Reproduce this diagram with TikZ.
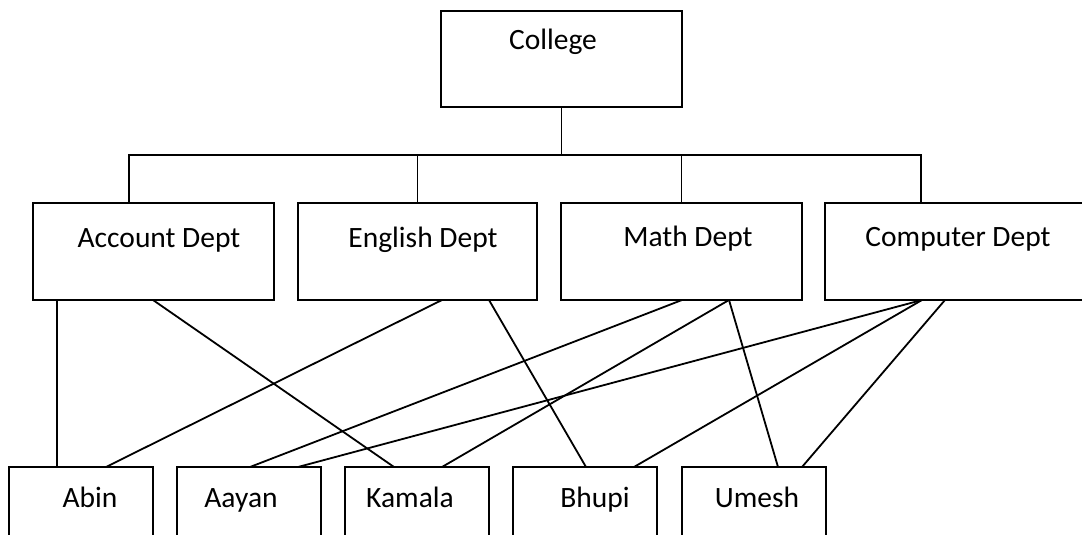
\documentclass[tikz,border=0pt]{standalone}
\usepackage{fontspec}
\setmainfont{Carlito}
\begin{document}
\begin{tikzpicture}[x=1pt,y=-1pt,
  line width=1.8pt,
  box/.style={draw=black,line width=1.8pt,rectangle,inner sep=0pt,outer sep=0pt,minimum height=#1},
  box/.default=97pt,
  lbl/.style={anchor=base,inner sep=0pt,font=\fontsize{29.5}{35}\selectfont},
  link/.style={draw=black,line width=1.8pt}]
\useasboundingbox (0,0) rectangle (1082,535);

% top level
\node[box=96pt,minimum width=241pt] (college) at (561.5,59) {};
\node[lbl] (tcollege) at (553,50) {College};

% departments
\node[box,minimum width=241pt] (acc)  at (153.5,251.5) {};
\node[box,minimum width=239pt] (eng)  at (417.5,251.5) {};
\node[box,minimum width=241pt] (math) at (681.5,251.5) {};
\node[box,minimum width=261pt] (comp) at (955.5,251.5) {};
\node[lbl] (tacc)  at (159,247) {Account Dept};
\node[lbl] (teng)  at (423,247) {English Dept};
\node[lbl] (tmath) at (688,246) {Math Dept};
\node[lbl] (tcomp) at (958,246) {Computer Dept};

% people (boxes run past the lower edge)
\node[box=93pt,minimum width=144pt] (abin)   at (81,513.5) {};
\node[box=93pt,minimum width=144pt] (aayan)  at (249,513.5) {};
\node[box=93pt,minimum width=144pt] (kamala) at (417,513.5) {};
\node[box=93pt,minimum width=144pt] (bhupi)  at (585,513.5) {};
\node[box=93pt,minimum width=144pt] (umesh)  at (754,513.5) {};
\node[lbl] (tabin)   at (90,507)  {Abin};
\node[lbl] (taayan)  at (241,507) {Aayan};
\node[lbl] (tkamala) at (410,507) {Kamala};
\node[lbl] (tbhupi)  at (595,507) {Bhupi};
\node[lbl] (tumesh)  at (757,507) {Umesh};

% bus from the college to the departments
\coordinate (busL) at (129,155);
\coordinate (busR) at (921,155);
\draw[link] (college.south) -- (college.south |- busL);
\draw[link] ([xshift=96pt]acc.north west) -- (busL) -- (busR) -- ([xshift=96pt]comp.north west);
\draw[link] (eng.north) -- (eng.north |- busL);
\draw[link] (math.north) -- (math.north |- busL);

% department to person links
\draw[link] ([xshift=24pt]acc.south west)   -- ([xshift=48pt]abin.north west);
\draw[link] ([xshift=120pt]acc.south west)  -- ([xshift=49pt]kamala.north west);
\draw[link] ([xshift=144pt]eng.south west)  -- ([xshift=97pt]abin.north west);
\draw[link] ([xshift=191pt]eng.south west)  -- ([xshift=73pt]bhupi.north west);
\draw[link] ([xshift=121pt]math.south west) -- ([xshift=73pt]aayan.north west);
\draw[link] ([xshift=168pt]math.south west) -- ([xshift=97pt]kamala.north west);
\draw[link] ([xshift=168pt]math.south west) -- ([xshift=96pt]umesh.north west);
\draw[link] ([xshift=97pt]comp.south west)  -- ([xshift=121pt]aayan.north west);
\draw[link] ([xshift=97pt]comp.south west)  -- ([xshift=121pt]bhupi.north west);
\draw[link] ([xshift=120pt]comp.south west) -- ([xshift=120pt]umesh.north west);
\end{tikzpicture}
\end{document}
